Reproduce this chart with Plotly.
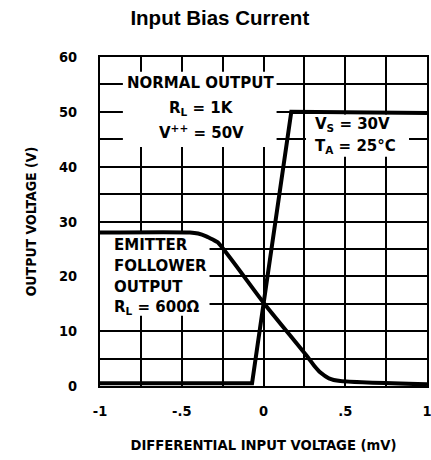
import plotly.graph_objects as go

# Data
normal_x = [-1.0, -0.07, 0.17, 1.0]
normal_y = [0.5, 0.5, 50.0, 49.8]

emitter_x = [-1.0, -0.45, -0.40, -0.35, -0.31, -0.28, 0.0, 0.27, 0.31, 0.35, 0.40, 0.47, 1.0]
emitter_y = [28.0, 28.0, 27.8, 27.3, 26.7, 26.2, 15.2, 5.3, 3.7, 2.4, 1.4, 0.9, 0.3]

x_tickvals = [-1, -0.5, 0, 0.5, 1]
x_ticktext = ["-1", "-.5", "0", ".5", "1"]
y_tickvals = [0, 10, 20, 30, 40, 50, 60]
y_ticktext = ["0", "10", "20", "30", "40", "50", "60"]

normal_lines = ["NORMAL OUTPUT", "R<sub>L</sub> = 1K", "V<sup>++</sup> = 50V"]
cond_lines = ["V<sub>S</sub> = 30V", "T<sub>A</sub> = 25°C"]
emitter_lines = ["EMITTER", "FOLLOWER", "OUTPUT", "R<sub>L</sub> = 600Ω"]

FONT = "DejaVu Sans Condensed"
FONT_W = "DejaVu Sans"

fig = go.Figure()
fig.add_trace(go.Scatter(x=normal_x, y=normal_y, mode="lines",
                         line=dict(color="black", width=4), showlegend=False))
fig.add_trace(go.Scatter(x=emitter_x, y=emitter_y, mode="lines",
                         line=dict(color="black", width=4, shape="spline", smoothing=0.6),
                         showlegend=False))

# white label boxes (between grid and curves)
for x0, x1, y0, y1 in [(-0.86, 0.08, 43.6, 57.3), (0.26, 0.89, 41.8, 49.5), (-1.0, -0.33, 12.8, 27.8)]:
    fig.add_shape(type="rect", xref="x", yref="y", x0=x0, x1=x1, y0=y0, y1=y1,
                  fillcolor="white", line=dict(width=0), layer="between")

ann_font = dict(family=FONT_W, size=15, color="black", weight="bold")
for txt, yy in zip(normal_lines, [55.3, 50.6, 46.3]):
    fig.add_annotation(x=-0.38, y=yy, xref="x", yref="y", text=txt, showarrow=False,
                       xanchor="center", yanchor="middle", font=ann_font)
for txt, yy in zip(cond_lines, [47.6, 43.7]):
    fig.add_annotation(x=0.30, y=yy, xref="x", yref="y", text=txt, showarrow=False,
                       xanchor="left", yanchor="middle", font=ann_font)
for txt, yy in zip(emitter_lines, [25.7, 21.9, 18.1, 14.3]):
    fig.add_annotation(x=-0.925, y=yy, xref="x", yref="y", text=txt, showarrow=False,
                       xanchor="left", yanchor="middle", font=ann_font)

fig.update_layout(
    width=431, height=460,
    margin=dict(l=100, r=4, t=57, b=74, autoexpand=False),
    paper_bgcolor="white", plot_bgcolor="white",
    title=dict(text="<b>Input Bias Current</b>", x=0.51, xanchor="center", y=0.961, yanchor="middle",
               font=dict(family="Liberation Sans", size=20.5, color="black")),
    font=dict(family=FONT, color="black"),
)
fig.update_xaxes(range=[-1, 1], tickvals=x_tickvals, ticktext=x_ticktext,
                 showgrid=True, gridcolor="black", gridwidth=1.5,
                 minor=dict(tickvals=[-0.75, -0.25, 0.25, 0.75], showgrid=True, gridcolor="black", gridwidth=1.5),
                 showline=True, linecolor="black", linewidth=2, mirror=True,
                 ticks="", ticklabelstandoff=11, zeroline=False, automargin=False,
                 ticklabeloverflow="allow",
                 tickfont=dict(family=FONT, size=14.5, weight="bold"),
                 title=dict(text="DIFFERENTIAL INPUT VOLTAGE (mV)", standoff=22,
                            font=dict(family=FONT_W, size=13.2, weight="bold")))
fig.update_yaxes(range=[0, 60], tickvals=y_tickvals, ticktext=y_ticktext,
                 showgrid=True, gridcolor="black", gridwidth=1.5,
                 minor=dict(tickvals=[5, 15, 25, 35, 45, 55], showgrid=True, gridcolor="black", gridwidth=1.5),
                 showline=True, linecolor="black", linewidth=2, mirror=True,
                 ticks="", ticklabelstandoff=18, zeroline=False, automargin=False,
                 ticklabeloverflow="allow",
                 tickfont=dict(family=FONT, size=14.5, weight="bold"),
                 title=dict(text="OUTPUT VOLTAGE (V)", standoff=19,
                            font=dict(family=FONT, size=14, weight="bold")))

fig.write_html("out.html", config={"displayModeBar": False},
               post_script="document.body.style.margin='0';document.body.style.overflow='hidden';")
